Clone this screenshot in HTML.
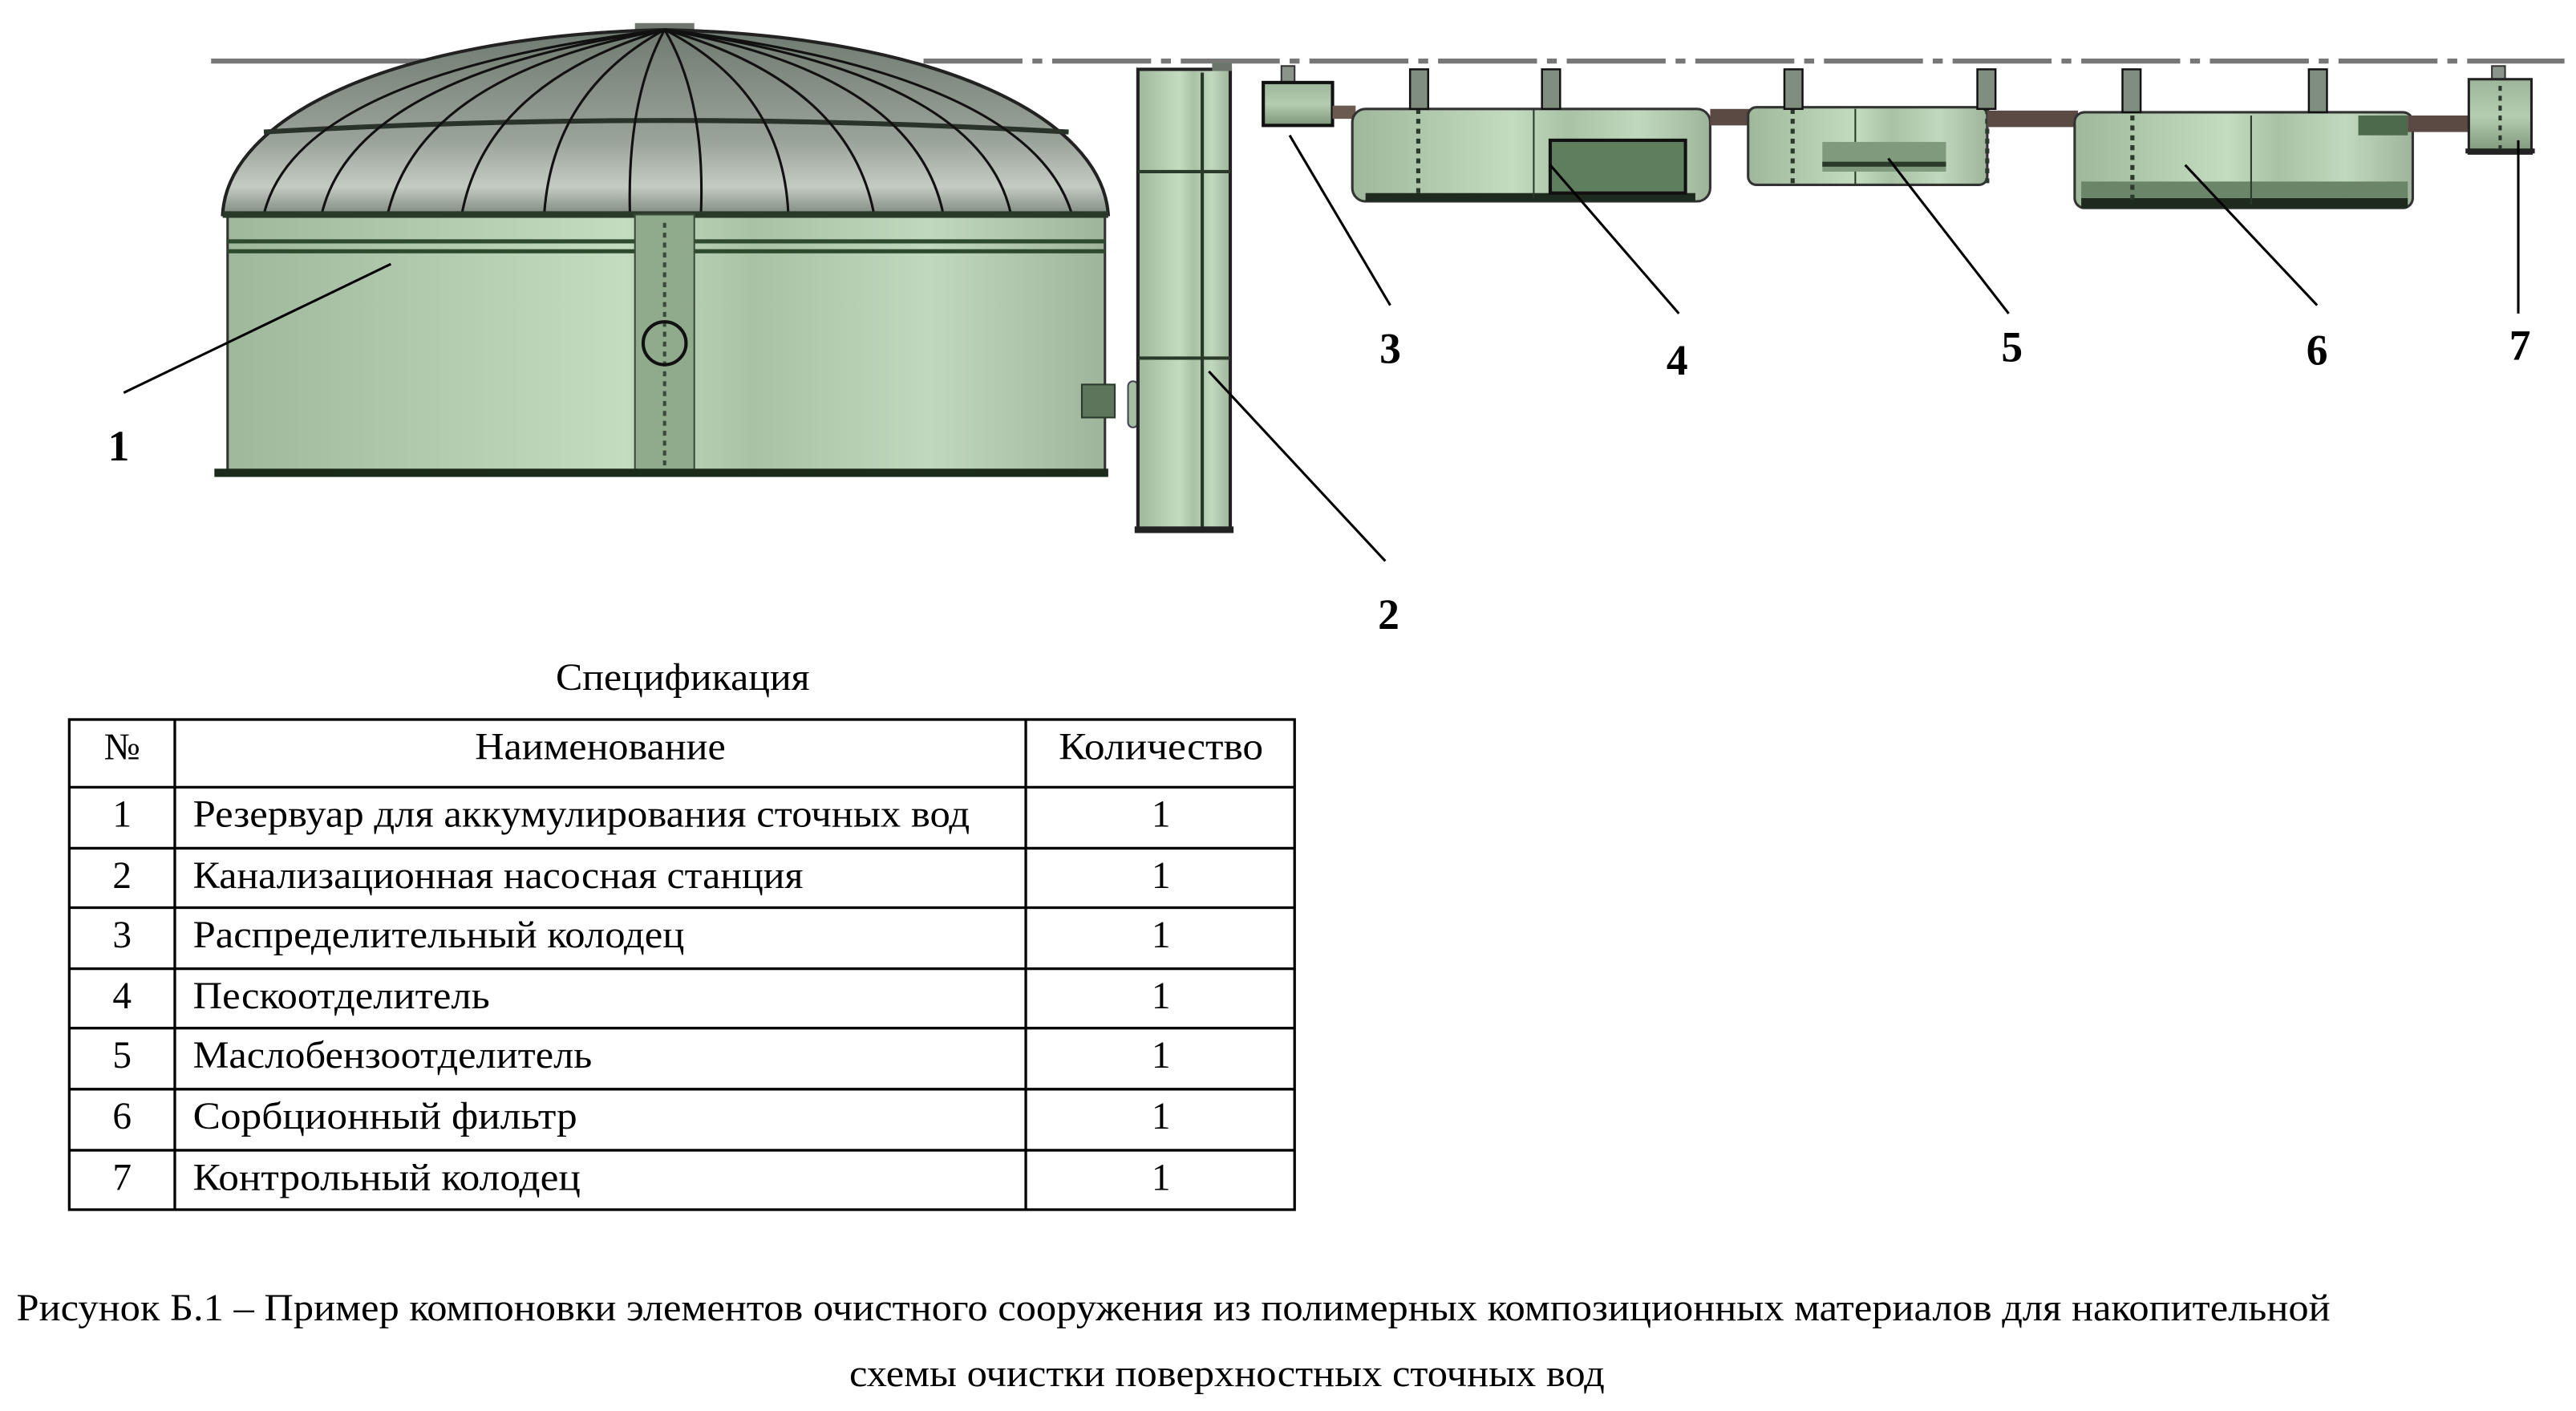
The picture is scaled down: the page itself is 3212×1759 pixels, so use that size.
<!DOCTYPE html>
<html><head><meta charset="utf-8"><style>
html,body{margin:0;padding:0;background:#fff;}
svg{display:block;}
text{font-family:"Liberation Serif",serif;fill:#000;}
</style></head><body>
<svg width="3212" height="1759" viewBox="0 0 1562 855" preserveAspectRatio="none" xmlns="http://www.w3.org/2000/svg">
<defs>
<linearGradient id="g" x1="0" x2="1" y1="0" y2="0">
<stop offset="0" stop-color="#9fb89c"/><stop offset="0.45" stop-color="#c3dcc0"/><stop offset="0.6" stop-color="#a9c2a5"/><stop offset="0.8" stop-color="#c0d8bd"/><stop offset="1" stop-color="#9fb59b"/>
</linearGradient>
<linearGradient id="gv" x1="0" x2="0" y1="0" y2="1">
<stop offset="0" stop-color="#9db59a"/><stop offset="0.5" stop-color="#b4cdb0"/><stop offset="1" stop-color="#7d967a"/>
</linearGradient>
<linearGradient id="dome" x1="0" x2="0" y1="0" y2="1">
<stop offset="0" stop-color="#6f7a70"/><stop offset="0.6" stop-color="#9aa39a"/><stop offset="0.85" stop-color="#c4cbc3"/><stop offset="1" stop-color="#7f8a7f"/>
</linearGradient>
</defs>
<line x1="128" y1="37" x2="450" y2="37" stroke="#777" stroke-width="3"/>
<line x1="560" y1="37" x2="1555" y2="37" stroke="#777" stroke-width="3" stroke-dasharray="60 6 6 6"/>
<!-- tank 1 -->
<rect x="385" y="14" width="36" height="8" fill="#6e766e"/>
<path d="M135,130 C138,72 235,22 403,18 C571,22 668,72 672,130 Z" fill="url(#dome)" stroke="#222" stroke-width="2"/>
<path d="M160,80 Q403,66 648,80" stroke="#2a332a" stroke-width="3" fill="none"/>
<g stroke="#111" stroke-width="1.5" fill="none">
<path d="M403,18 Q380,60 382,130"/><path d="M403,18 Q428,60 425,130"/>
<path d="M403,18 Q335,55 330,130"/><path d="M403,18 Q475,55 478,130"/>
<path d="M403,18 Q295,50 280,130"/><path d="M403,18 Q515,50 530,130"/>
<path d="M403,18 Q255,45 235,130"/><path d="M403,18 Q555,45 572,130"/>
<path d="M403,18 Q215,45 195,130"/><path d="M403,18 Q595,45 613,130"/>
<path d="M403,18 Q180,45 160,130"/><path d="M403,18 Q625,45 650,130"/>
</g>
<rect x="138" y="130" width="532" height="155" fill="url(#g)" stroke="#333" stroke-width="1.5"/>
<rect x="135" y="128" width="537" height="4" fill="#2a3a2a"/>
<rect x="138" y="145" width="532" height="2.5" fill="#2e4a2e"/>
<rect x="138" y="151" width="532" height="2.5" fill="#2e4a2e"/>
<rect x="385" y="130" width="36" height="155" fill="#8fab8c" stroke="#3a4a3a" stroke-width="1"/>
<line x1="403" y1="135" x2="403" y2="283" stroke="#3a4a3a" stroke-width="2" stroke-dasharray="3 3"/>
<ellipse cx="403" cy="208" rx="13" ry="13" fill="none" stroke="#111" stroke-width="2"/>
<rect x="130" y="284" width="542" height="5" fill="#1c2a1c"/>
<rect x="656" y="233" width="20" height="20" fill="#5d765b" stroke="#2a3a2a"/>
<rect x="684" y="231" width="6" height="28" rx="3" fill="#a5bda2" stroke="#445"/>
<!-- pump station 2 -->
<rect x="690" y="42" width="56" height="280" fill="url(#g)" stroke="#222" stroke-width="2"/>
<line x1="729" y1="44" x2="729" y2="320" stroke="#2a3a2a" stroke-width="2"/>
<line x1="690" y1="104" x2="746" y2="104" stroke="#2a3a2a" stroke-width="2"/>
<line x1="690" y1="217" x2="746" y2="217" stroke="#2a3a2a" stroke-width="2"/>
<rect x="688" y="319" width="60" height="4" fill="#222"/>
<rect x="735" y="38" width="12" height="5" fill="#6b756b"/>
<!-- well 3 -->
<rect x="777" y="40" width="8" height="12" fill="#8a948a" stroke="#333"/>
<rect x="766" y="50" width="42" height="26" fill="url(#gv)" stroke="#111" stroke-width="2"/>
<rect x="808" y="64" width="14" height="8" fill="#6b5a50"/>
<!-- tank 4 -->
<rect x="820" y="66" width="217" height="56" rx="8" fill="url(#g)" stroke="#333" stroke-width="1.5"/>
<rect x="828" y="117" width="200" height="5" fill="#1e2a1e"/>
<line x1="930" y1="66" x2="930" y2="120" stroke="#2a3a2a"/>
<rect x="940" y="85" width="82" height="32" fill="#5f7e5d" stroke="#111" stroke-width="2"/>
<line x1="860" y1="66" x2="860" y2="120" stroke="#2a3a2a" stroke-width="2.5" stroke-dasharray="3 3"/>
<rect x="1037" y="66" width="25" height="10" fill="#5b4a44"/>
<!-- tank 5 -->
<rect x="1060" y="65" width="145" height="47" rx="5" fill="url(#g)" stroke="#333" stroke-width="1.5"/>
<line x1="1125" y1="66" x2="1125" y2="112" stroke="#2a3a2a"/>
<line x1="1087" y1="66" x2="1087" y2="112" stroke="#2a3a2a" stroke-width="2.5" stroke-dasharray="3 3"/>
<line x1="1205" y1="66" x2="1205" y2="112" stroke="#2a3a2a" stroke-width="2.5" stroke-dasharray="3 3"/>
<rect x="1105" y="86" width="75" height="18" fill="#7f9a7c"/>
<rect x="1105" y="98" width="75" height="3" fill="#2a3a2a"/>
<rect x="1205" y="67" width="55" height="10" fill="#5b4a44"/>
<!-- tank 6 -->
<rect x="1258" y="68" width="205" height="58" rx="6" fill="url(#g)" stroke="#333" stroke-width="1.5"/>
<rect x="1262" y="120" width="198" height="6" fill="#1e2a1e"/>
<rect x="1262" y="110" width="198" height="10" fill="#6a8567"/>
<line x1="1365" y1="70" x2="1365" y2="124" stroke="#2a3a2a"/>
<line x1="1293" y1="70" x2="1293" y2="124" stroke="#2a3a2a" stroke-width="2.5" stroke-dasharray="3 3"/>
<rect x="1430" y="70" width="30" height="12" fill="#4e6a4c"/>
<rect x="1460" y="70" width="37" height="10" fill="#5b4a44"/>
<!-- well 7 -->
<rect x="1511" y="40" width="8" height="10" fill="#8a948a" stroke="#333"/>
<rect x="1497" y="48" width="38" height="45" fill="url(#gv)" stroke="#222" stroke-width="1.5"/>
<rect x="1495" y="90" width="42" height="3" fill="#222"/>
<line x1="1516" y1="52" x2="1516" y2="90" stroke="#2a3a2a" stroke-width="2" stroke-dasharray="3 3"/>
<!-- risers -->
<g fill="#7f8e7e" stroke="#111" stroke-width="1.2">
<rect x="855" y="42" width="11" height="24"/><rect x="935" y="42" width="11" height="24"/>
<rect x="1082" y="42" width="11" height="24"/><rect x="1199" y="42" width="11" height="24"/>
<rect x="1287" y="42" width="11" height="26"/><rect x="1400" y="42" width="11" height="26"/>
</g>
<g stroke="#000" stroke-width="1.5">
<line x1="237" y1="160" x2="75" y2="238"/>
<line x1="733" y1="225" x2="840" y2="340"/>
<line x1="782" y1="82" x2="843" y2="185"/>
<line x1="940" y1="100" x2="1018" y2="190"/>
<line x1="1145" y1="96" x2="1218" y2="190"/>
<line x1="1325" y1="100" x2="1405" y2="185"/>
<line x1="1527" y1="85" x2="1527" y2="190"/>
</g>
<g font-weight="bold" font-size="26" text-anchor="middle">
<text x="72" y="279">1</text><text x="842" y="381">2</text><text x="843" y="220">3</text>
<text x="1017" y="227">4</text><text x="1220" y="219">5</text><text x="1405" y="221">6</text><text x="1528" y="218">7</text>
</g>
<text x="414" y="418" font-size="23" text-anchor="middle" textLength="154" lengthAdjust="spacingAndGlyphs">Спецификация</text>
<g stroke="#000" stroke-width="1.6" fill="none">
<rect x="42" y="436" width="743" height="297"/>
<line x1="106" y1="436" x2="106" y2="733"/><line x1="622" y1="436" x2="622" y2="733"/>
<line x1="42" y1="477" x2="785" y2="477"/><line x1="42" y1="514" x2="785" y2="514"/>
<line x1="42" y1="550" x2="785" y2="550"/><line x1="42" y1="587" x2="785" y2="587"/>
<line x1="42" y1="623" x2="785" y2="623"/><line x1="42" y1="660" x2="785" y2="660"/>
<line x1="42" y1="697" x2="785" y2="697"/>
</g>
<g font-size="23">
<text x="74" y="460" text-anchor="middle">№</text>
<text x="364" y="460" text-anchor="middle" textLength="152" lengthAdjust="spacingAndGlyphs">Наименование</text>
<text x="704" y="460" text-anchor="middle" textLength="124" lengthAdjust="spacingAndGlyphs">Количество</text>
<text x="74" y="501" text-anchor="middle">1</text><text x="117" y="501" textLength="471" lengthAdjust="spacingAndGlyphs">Резервуар для аккумулирования сточных вод</text><text x="704" y="501" text-anchor="middle">1</text>
<text x="74" y="538" text-anchor="middle">2</text><text x="117" y="538" textLength="370" lengthAdjust="spacingAndGlyphs">Канализационная насосная станция</text><text x="704" y="538" text-anchor="middle">1</text>
<text x="74" y="574" text-anchor="middle">3</text><text x="117" y="574" textLength="298" lengthAdjust="spacingAndGlyphs">Распределительный колодец</text><text x="704" y="574" text-anchor="middle">1</text>
<text x="74" y="611" text-anchor="middle">4</text><text x="117" y="611" textLength="180" lengthAdjust="spacingAndGlyphs">Пескоотделитель</text><text x="704" y="611" text-anchor="middle">1</text>
<text x="74" y="647" text-anchor="middle">5</text><text x="117" y="647" textLength="242" lengthAdjust="spacingAndGlyphs">Маслобензоотделитель</text><text x="704" y="647" text-anchor="middle">1</text>
<text x="74" y="684" text-anchor="middle">6</text><text x="117" y="684" textLength="233" lengthAdjust="spacingAndGlyphs">Сорбционный фильтр</text><text x="704" y="684" text-anchor="middle">1</text>
<text x="74" y="721" text-anchor="middle">7</text><text x="117" y="721" textLength="235" lengthAdjust="spacingAndGlyphs">Контрольный колодец</text><text x="704" y="721" text-anchor="middle">1</text>
</g>
<text x="10" y="800" font-size="23" textLength="1403" lengthAdjust="spacingAndGlyphs">Рисунок Б.1 – Пример компоновки элементов очистного сооружения из полимерных композиционных материалов для накопительной</text>
<text x="515" y="840" font-size="23" textLength="458" lengthAdjust="spacingAndGlyphs">схемы очистки поверхностных сточных вод</text>
</svg>
</body></html>
